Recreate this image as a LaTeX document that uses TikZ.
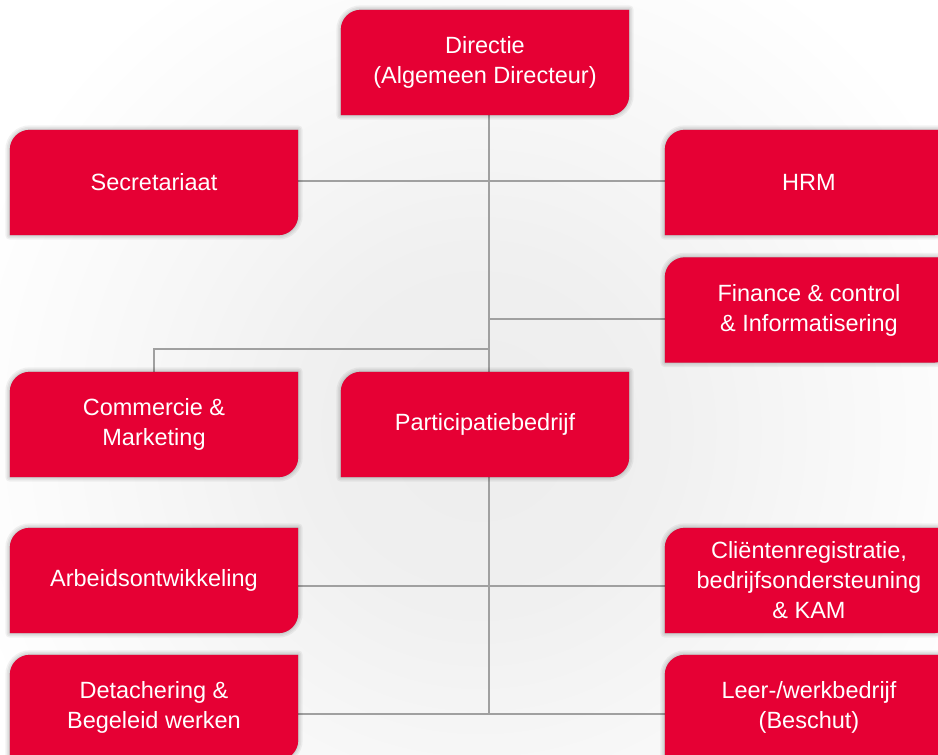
\documentclass[tikz,border=0pt]{standalone}
\usepackage{fontspec}
\setmainfont{Liberation Sans}
\usetikzlibrary{calc}

\definecolor{boxred}{RGB}{230,0,52}
\definecolor{linegray}{RGB}{160,160,160}

\pgfdeclarelayer{bg}
\pgfdeclarelayer{shadows}
\pgfdeclarelayer{boxes}
\pgfsetlayers{bg,shadows,boxes,main}

% soft grey glow behind the chart; fades to white at the circle's rim (25bp)
\pgfdeclareradialshading{haze}{\pgfpoint{0bp}{0bp}}{%
  color(0bp)=(black!7); color(8bp)=(black!6); color(16bp)=(black!3);
  color(25bp)=(white); color(50bp)=(white)}

\tikzset{
  orgbox/.style={minimum width=288pt, minimum height=105pt, inner sep=0pt,
    text=white, align=center, font=\fontsize{23.5}{30}\selectfont},
  boxfill/.style={fill=boxred},
  softshadow/.style={fill=black, draw=black, line join=round,
    fill opacity=0.05, draw opacity=0.05, line width=#1},
  conn/.style={draw=linegray, line width=1.4pt}
}

% outline of a box: rounded top-left and bottom-right corners
\newcommand\orgpath[1]{%
  (#1.south west)
    -- ($(#1.north west)+(0pt,-20pt)$) arc[start angle=180, end angle=90, radius=20pt]
    -- (#1.north east)
    -- ($(#1.south east)+(0pt,20pt)$) arc[start angle=0, end angle=-90, radius=20pt]
    -- cycle}

\newcommand\orgshape[1]{%
  \begin{pgfonlayer}{shadows}
    \begin{scope}[xshift=3pt, yshift=-5pt]
      \foreach \w in {9pt,6pt,3pt,0.5pt}{\path[softshadow=\w] \orgpath{#1};}
    \end{scope}
  \end{pgfonlayer}
  \begin{pgfonlayer}{boxes}
    \fill[boxfill] \orgpath{#1};
  \end{pgfonlayer}}

\begin{document}
\begin{tikzpicture}[x=1pt, y=-1pt]
  \useasboundingbox (0,0) rectangle (938,755);
  \clip (0,0) rectangle (938,755);

  \begin{pgfonlayer}{bg}
    \fill[white] (0,0) rectangle (938,755);
    \shade[shading=haze] (480,430) circle [radius=540pt];
  \end{pgfonlayer}

  % units
  \node[orgbox] (dir) at (485,62.5) {Directie\\(Algemeen Directeur)};
  \node[orgbox] (sec) at (154,182.5) {Secretariaat};
  \node[orgbox] (hrm) at (809,182.5) {HRM};
  \node[orgbox] (fin) at (809,310) {Finance \& control\\\& Informatisering};
  \node[orgbox] (com) at (154,424.5) {Commercie \&\\Marketing};
  \node[orgbox] (par) at (485,424.5) {Participatiebedrijf};
  \node[orgbox] (arb) at (154,580.5) {Arbeidsontwikkeling};
  \node[orgbox] (cli) at (809,580.5) {Cliëntenregistratie,\\bedrijfsondersteuning\\\& KAM};
  \node[orgbox] (det) at (154,707.5) {Detachering \&\\Begeleid werken};
  \node[orgbox] (lee) at (809,707.5) {Leer-/werkbedrijf\\(Beschut)};

  \foreach \n in {dir,sec,hrm,fin,com,par,arb,cli,det,lee}{\orgshape{\n}}

  % junctions on the two trunks
  \coordinate (trunk) at (489,0);
  \coordinate (jsec) at (489,181);
  \coordinate (jfin) at (489,319);
  \coordinate (jcom) at (489,349);
  \coordinate (jarb) at (489,586);
  \coordinate (jdet) at (489,714);

  \begin{pgfonlayer}{bg}
    \draw[conn] (dir.south -| trunk) -- (par.north -| trunk);
    \draw[conn] (jsec -| sec.east) -- (jsec -| hrm.west);
    \draw[conn] (jfin) -- (jfin -| fin.west);
    \draw[conn] (jcom) -| (com.north);
    \draw[conn] (par.south -| trunk) -- (jdet);
    \draw[conn] (jarb -| arb.east) -- (jarb -| cli.west);
    \draw[conn] (jdet -| det.east) -- (jdet -| lee.west);
  \end{pgfonlayer}
\end{tikzpicture}
\end{document}
